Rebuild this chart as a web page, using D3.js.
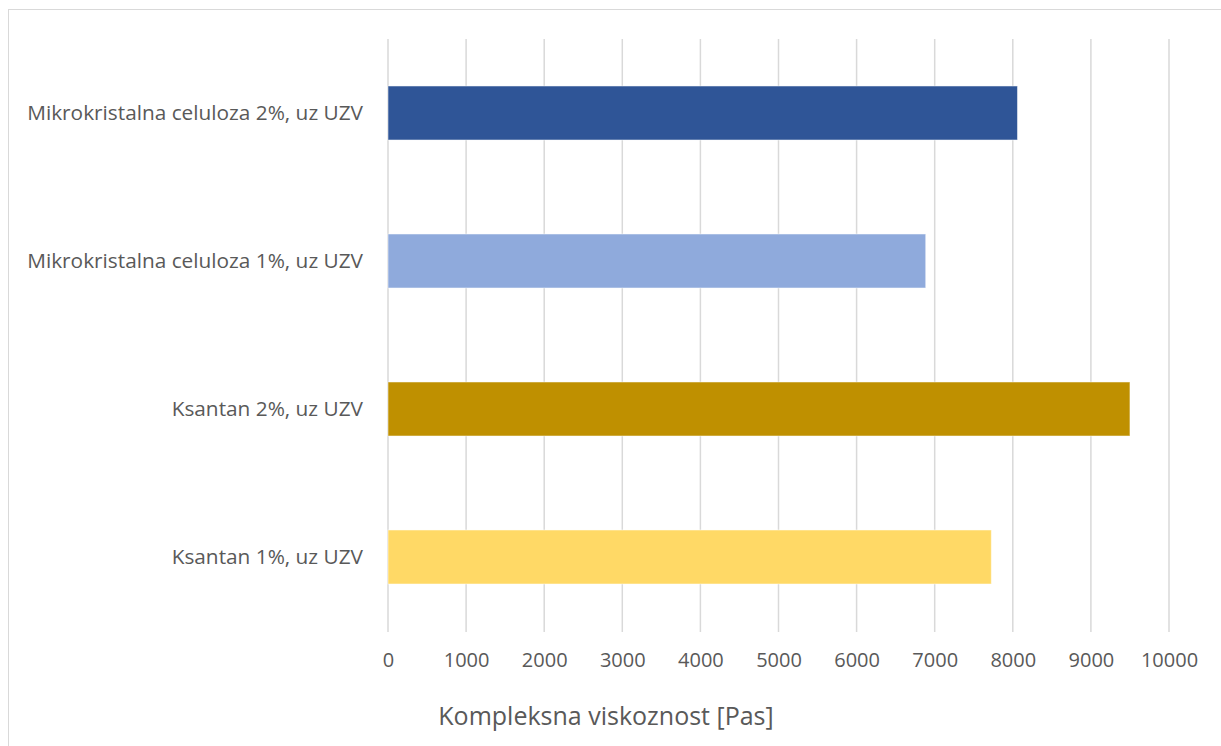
<!DOCTYPE html>
<html><head><meta charset="utf-8">
<script src="https://cdn.jsdelivr.net/npm/d3@7"></script>
<style>body{margin:0;background:#fff;}svg{display:block;font-family:"Open Sans",sans-serif;}</style>
</head><body>
<svg id="c" width="1221" height="746"></svg>
<script>
const categories = ["Mikrokristalna celuloza 2%, uz UZV","Mikrokristalna celuloza 1%, uz UZV","Ksantan 2%, uz UZV","Ksantan 1%, uz UZV"];
const values = [8060, 6885, 9500, 7725];
const colors = ["#2F5597","#8FAADC","#BF9000","#FFD966"];
const xTicks = [0,1000,2000,3000,4000,5000,6000,7000,8000,9000,10000];
const xTitle = "Kompleksna viskoznost [Pas]";

const svg = d3.select("#c");
svg.append("rect").attr("x",8.5).attr("y",9.5).attr("width",1230).attr("height",760)
  .attr("fill","none").attr("stroke","#d9d9d9").attr("stroke-width",1);

const x = d3.scaleLinear().domain([0,10000]).range([388,1169]);
const y = d3.scaleBand().domain(categories).range([39,631]).paddingInner(0.635).paddingOuter(0.3175);

svg.append("g").selectAll("line").data(xTicks).join("line")
  .attr("x1",d=>x(d)).attr("x2",d=>x(d)).attr("y1",39).attr("y2",632)
  .attr("stroke","#d9d9d9").attr("stroke-width",1.5);

svg.append("g").selectAll("rect").data(categories).join("rect")
  .attr("x",x(0)).attr("y",d=>y(d)).attr("height",y.bandwidth())
  .attr("width",(d,i)=>x(values[i])-x(0))
  .attr("fill",(d,i)=>colors[i]).attr("stroke","rgba(255,255,255,0.5)").attr("stroke-width",1);

const xa = svg.append("g").attr("transform","translate(0,632)")
  .call(d3.axisBottom(x).tickValues(xTicks).tickSize(0).tickPadding(21).tickFormat(d3.format("d")));
xa.select(".domain").remove();
xa.selectAll("text").attr("fill","#595959").style("font-size","20px").style("font-family","'Open Sans',sans-serif");

const ya = svg.append("g").attr("transform","translate(388,0)")
  .call(d3.axisLeft(y).tickSize(0).tickPadding(25));
ya.select(".domain").remove();
ya.selectAll("text").attr("fill","#595959").style("font-size","20.8px").style("font-family","'Open Sans',sans-serif");

svg.append("text").attr("x",606).attr("y",725).attr("text-anchor","middle")
  .attr("fill","#595959").style("font-size","25px").text(xTitle);
</script>
</body></html>
